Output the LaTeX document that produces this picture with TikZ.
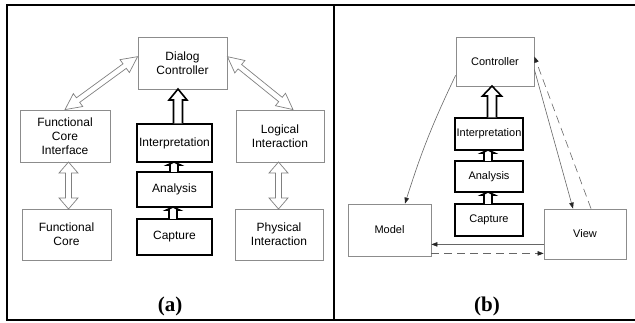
\documentclass[tikz,border=0pt]{standalone}
\usepackage{fontspec}
\setmainfont{Liberation Sans}
\newfontfamily\labelfont{Liberation Serif}
\usetikzlibrary{calc,arrows.meta}

\tikzset{
  graybox/.style={draw=black!45, line width=0.8pt, align=center, inner sep=0pt,
    font=\fontsize{12}{14}\selectfont},
  thickbox/.style={draw=black, line width=1.8pt, align=center, inner sep=0pt,
    font=\fontsize{12}{14}\selectfont},
  sgraybox/.style={graybox, font=\fontsize{11}{13}\selectfont},
  sthickbox/.style={thickbox, font=\fontsize{11}{13}\selectfont},
  hollowgray/.style={draw=black!50, line width=0.7pt, fill=white, line join=miter},
  hollowblack/.style={draw=black, line width=1.6pt, fill=white, line join=miter},
  conn/.style={draw=black!60, line width=0.6pt,
    -{Triangle[length=6pt,width=4.5pt,color=black!85]}},
  dconn/.style={conn, dash pattern=on 8pt off 5pt},
  framerule/.style={line width=2pt},
  panellabel/.style={font=\labelfont\bfseries\fontsize{21}{24}\selectfont, inner sep=0pt}
}

% double-headed hollow arrow: style, from, to, shaft half width, head half width, head length
\newcommand{\dblhollow}[6]{%
  \path[#1] let \p1=(#2), \p2=(#3), \n1={atan2(\y2-\y1,\x2-\x1)}, \n2={\n1+90},
    \n3={veclen(\x2-\x1,\y2-\y1)-#6} in
    (\p1) -- ($(\p1)+(\n1:#6)+(\n2:#5)$) -- ($(\p1)+(\n1:#6)+(\n2:#4)$)
    -- ($(\p1)+(\n1:\n3)+(\n2:#4)$) -- ($(\p1)+(\n1:\n3)+(\n2:#5)$) -- (\p2)
    -- ($(\p1)+(\n1:\n3)+(\n2:-#5)$) -- ($(\p1)+(\n1:\n3)+(\n2:-#4)$)
    -- ($(\p1)+(\n1:#6)+(\n2:-#4)$) -- ($(\p1)+(\n1:#6)+(\n2:-#5)$) -- cycle;
}
% single-headed hollow arrow pointing at #3
\newcommand{\onehollow}[6]{%
  \path[#1] let \p1=(#2), \p2=(#3), \n1={atan2(\y2-\y1,\x2-\x1)}, \n2={\n1+90},
    \n3={veclen(\x2-\x1,\y2-\y1)-#6} in
    ($(\p1)+(\n2:#4)$) -- ($(\p1)+(\n1:\n3)+(\n2:#4)$) -- ($(\p1)+(\n1:\n3)+(\n2:#5)$)
    -- (\p2) -- ($(\p1)+(\n1:\n3)+(\n2:-#5)$) -- ($(\p1)+(\n1:\n3)+(\n2:-#4)$)
    -- ($(\p1)+(\n2:-#4)$);
}

\begin{document}
\begin{tikzpicture}[x=1pt, y=-1pt]
\useasboundingbox (0,0) rectangle (635,323);

% frame
\coordinate (ftl) at (6.5,5.5);
\coordinate (ftr) at (635,5.5);
\coordinate (fbl) at (6.5,320);
\coordinate (fbr) at (635,320);
\coordinate (dvt) at (334,5.5);
\coordinate (dvb) at (334,320);
\draw[framerule] (ftr) -- (ftl) -- (fbl) -- (fbr);
\draw[line width=1.5pt] (dvt) -- (dvb);

% ---------- panel (a) ----------
\node[graybox, minimum width=89pt, minimum height=52pt] (dc) at (182.5,63) {Dialog\\Controller};
\node[graybox, minimum width=90pt, minimum height=52pt] (fci) at (65,136) {Functional\\Core\\Interface};
\node[graybox, minimum width=88pt, minimum height=52pt] (li) at (280,136) {Logical\\Interaction};
\node[graybox, minimum width=89pt, minimum height=51pt] (fc) at (66.5,234.5) {Functional\\Core};
\node[graybox, minimum width=88pt, minimum height=51pt] (pi) at (279,234.5) {Physical\\Interaction};
\node[thickbox, minimum width=75pt, minimum height=38pt] (interp) at (174.5,143) {Interpretation};
\node[thickbox, minimum width=75pt, minimum height=35pt] (anal) at (174.5,189.5) {Analysis};
\node[thickbox, minimum width=75pt, minimum height=36pt] (capt) at (174.5,237) {Capture};

\coordinate (dcl) at ($(dc.north west)!0.38!(dc.south west)$);
\coordinate (dcr) at ($(dc.north east)!0.38!(dc.south east)$);
\coordinate (fcin) at (fci.north);
\coordinate (lin) at ($(li.north)+(13,0)$);
\dblhollow{hollowgray}{dcl}{fcin}{2.8pt}{8pt}{16pt}
\dblhollow{hollowgray}{dcr}{lin}{2.8pt}{8pt}{16pt}

\coordinate (fcis) at (68.5,162);
\coordinate (fcn) at (68.5,209);
\coordinate (lis) at (278.5,162);
\coordinate (pin) at (278.5,209);
\dblhollow{hollowgray}{fcis}{fcn}{3pt}{9.5pt}{11pt}
\dblhollow{hollowgray}{lis}{pin}{3pt}{9.5pt}{11pt}

\coordinate (ia) at (178,123.5);
\coordinate (ib) at (178,89);
\onehollow{hollowblack}{ia}{ib}{4.5pt}{9pt}{11pt}
\coordinate (aa) at (174,172);
\coordinate (ab) at (174,162);
\onehollow{hollowblack}{aa}{ab}{4pt}{6.5pt}{3pt}
\coordinate (ca) at (173,219);
\coordinate (cb) at (173,207);
\onehollow{hollowblack}{ca}{cb}{4pt}{6.5pt}{3pt}

\node[panellabel] (la) at (170,306) {(a)};

% ---------- panel (b) ----------
\node[sgraybox, minimum width=78pt, minimum height=49pt] (ctrl) at (495,61.5) {Controller};
\node[sthickbox, minimum width=68pt, minimum height=32pt] (binterp) at (489,134) {Interpretation};
\node[sthickbox, minimum width=68pt, minimum height=31pt] (banal) at (489,176.5) {Analysis};
\node[sthickbox, minimum width=68pt, minimum height=32pt] (bcapt) at (489,220) {Capture};
\node[sgraybox, minimum width=83pt, minimum height=52pt] (model) at (389.5,230) {Model};
\node[sgraybox, minimum width=82pt, minimum height=50pt] (view) at (585,234) {View};

\coordinate (bia) at (492,117.5);
\coordinate (bib) at (492,86);
\onehollow{hollowblack}{bia}{bib}{4.5pt}{9.5pt}{10pt}
\coordinate (baa) at (488,161);
\coordinate (bab) at (488,150);
\onehollow{hollowblack}{baa}{bab}{4pt}{6.5pt}{3pt}
\coordinate (bca) at (488,204);
\coordinate (bcb) at (488,192);
\onehollow{hollowblack}{bca}{bcb}{4pt}{6.5pt}{3pt}

\coordinate (c1) at ($(ctrl.south west)+(0,-11)$);
\coordinate (m1) at ($(model.north)+(15.5,0)$);
\draw[conn] (c1) to[bend right=4] (m1);
\coordinate (c2) at ($(ctrl.north east)+(0,33)$);
\coordinate (v2) at ($(view.north)+(-12,0)$);
\draw[conn] (c2) -- (v2);
\coordinate (v3) at ($(view.north)+(6,0)$);
\coordinate (c3) at ($(ctrl.north east)+(0,20)$);
\draw[dconn] (v3) -- (c3);
\coordinate (v4) at ($(view.south west)+(0,-15)$);
\coordinate (m4) at (model.east |- v4);
\draw[conn] (v4) -- (m4);
\coordinate (m5) at ($(model.south east)+(0,-3)$);
\coordinate (v5) at (view.west |- m5);
\draw[dconn] (m5) -- (v5);

\node[panellabel] (lb) at (487,306) {(b)};
\end{tikzpicture}
\end{document}
